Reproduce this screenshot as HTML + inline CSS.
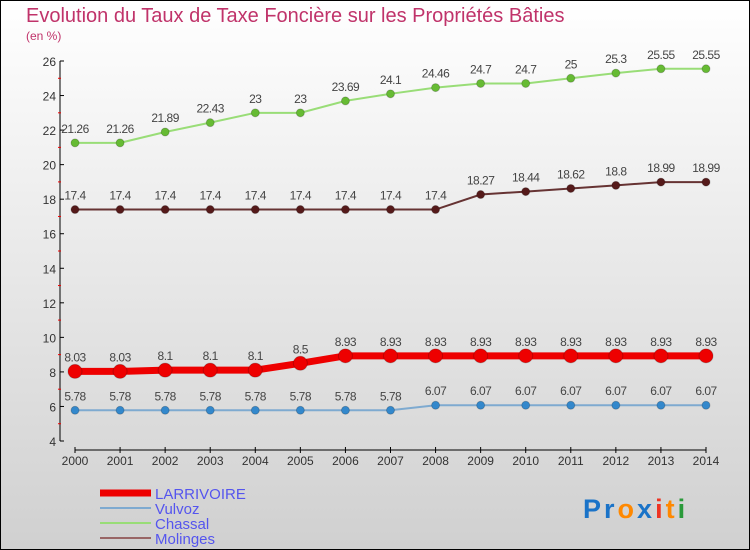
<!DOCTYPE html>
<html><head><meta charset="utf-8"><style>
body{margin:0}
#c{width:750px;height:550px;position:relative;box-sizing:border-box;border:1px solid #000;background:linear-gradient(#ffffff,#d0d0d0);font-family:"Liberation Sans",sans-serif;overflow:hidden}
</style></head><body>
<div id="c">
<svg id="s" width="750" height="550" style="position:absolute;left:-1px;top:-1px">
<text x="26" y="22" font-size="20" fill="#c0336a" font-weight="300">Evolution du Taux de Taxe Foncière sur les Propriétés Bâties</text>
<text x="26" y="40" font-size="12" fill="#c0336a">(en %)</text>
<g id="ax"></g><g id="plot"></g>
<g>
<line x1="100" y1="493" x2="151" y2="493" stroke="#ee0000" stroke-width="7"/>
<text x="155" y="499" font-size="15" fill="#5555ee">LARRIVOIRE</text>
<line x1="100" y1="508" x2="151" y2="508" stroke="#7eaad0" stroke-width="2"/>
<text x="155" y="514" font-size="15" fill="#5555ee">Vulvoz</text>
<line x1="100" y1="523" x2="151" y2="523" stroke="#99dd77" stroke-width="2"/>
<text x="155" y="529" font-size="15" fill="#5555ee">Chassal</text>
<line x1="100" y1="538" x2="151" y2="538" stroke="#996666" stroke-width="2"/>
<text x="155" y="544" font-size="15" fill="#5555ee">Molinges</text>
</g>
<g font-size="27" font-weight="bold" letter-spacing="3">
<text x="583" y="518"><tspan fill="#1a73c8">Pr</tspan><tspan fill="#ff8800">o</tspan><tspan fill="#1a73c8">x</tspan><tspan fill="#ee3322">i</tspan><tspan fill="#ff8800">t</tspan><tspan fill="#2a9a3a">i</tspan></text>
</g>
</svg>
</div>
<script>
const years=[2000,2001,2002,2003,2004,2005,2006,2007,2008,2009,2010,2011,2012,2013,2014];
const larrivoire=[8.03,8.03,8.1,8.1,8.1,8.5,8.93,8.93,8.93,8.93,8.93,8.93,8.93,8.93,8.93];
const vulvoz=[5.78,5.78,5.78,5.78,5.78,5.78,5.78,5.78,6.07,6.07,6.07,6.07,6.07,6.07,6.07];
const chassal=[21.26,21.26,21.89,22.43,23,23,23.69,24.1,24.46,24.7,24.7,25,25.3,25.55,25.55];
const molinges=[17.4,17.4,17.4,17.4,17.4,17.4,17.4,17.4,17.4,18.27,18.44,18.62,18.8,18.99,18.99];
const yTicks=[4,6,8,10,12,14,16,18,20,22,24,26];
const NS="http://www.w3.org/2000/svg";
const X=i=>75+i*(706-75)/(years.length-1);
const Y=v=>441-(v-4)*(380/22);
function mk(p,t,a){const e=document.createElementNS(NS,t);for(const k in a)e.setAttribute(k,a[k]);p.appendChild(e);return e;}
const ax=document.getElementById('ax'),plot=document.getElementById('plot');
let e=mk(ax,'line',{x1:60,y1:Y(26),x2:60,y2:Y(4),stroke:'#000'});


for(let v=5;v<26;v+=2){mk(ax,'line',{x1:58,y1:Y(v),x2:61,y2:Y(v),stroke:'#e00'});}
yTicks.forEach(v=>{mk(ax,'line',{x1:60,y1:Y(v),x2:64,y2:Y(v),stroke:'#000'});
const t=mk(ax,'text',{x:56,y:Y(v)+5,'font-size':12,fill:'#333','text-anchor':'end'});t.textContent=v;

});
e=mk(ax,'line',{x1:75,y1:450,x2:706,y2:450,stroke:'#000'});


years.forEach((y,i)=>{mk(ax,'line',{x1:X(i),y1:447,x2:X(i),y2:453,stroke:'#000'});
const t=mk(ax,'text',{x:X(i),y:465,'font-size':12,fill:'#333','text-anchor':'middle'});t.textContent=y;

});
function series(name,data,col,dot,w,r){
const g=mk(plot,'g',{});


mk(g,'polyline',{points:data.map((v,i)=>X(i)+','+Y(v)).join(' '),fill:'none',stroke:col,'stroke-width':w});
data.forEach((v,i)=>{const c=mk(g,'circle',{cx:X(i),cy:Y(v),r:r,fill:dot,stroke:'#0003'});


const t=mk(g,'text',{x:X(i),y:Y(v)-10,'font-size':12,fill:'#444','text-anchor':'middle','letter-spacing':'-0.5'});t.textContent=v;

});}
series('chassal',chassal,'#99dd77','#66bb33',2,4);
series('molinges',molinges,'#663333','#551a1a',2,4);
series('vulvoz',vulvoz,'#7eaad0','#3388cc',2,4);
series('larrivoire',larrivoire,'#ee0000','#ee0000',7,7);
</script>
</body></html>
